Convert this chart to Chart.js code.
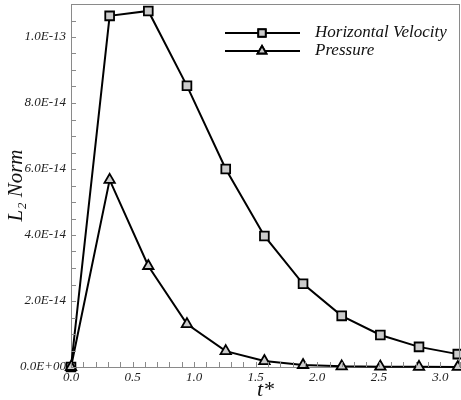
<!DOCTYPE html>
<html lang="en">
<head>
  <meta charset="UTF-8" />
  <title>L2 Norm vs t*</title>
  <script src="https://cdn.jsdelivr.net/npm/chart.js"></script>
  <style>
    html, body { margin: 0; padding: 0; background: #fff; }
    #wrap { width: 461px; height: 400px; }
  </style>
</head>
<body>
  <div id="wrap"><canvas id="normChart" width="461" height="400"></canvas></div>

  <script>
    // values
    const tStar = [0, 0.314, 0.628, 0.942, 1.257, 1.571, 1.885, 2.199, 2.513, 2.827, 3.142];
    const velocityNorm = [0, 10.64e-14, 10.79e-14, 8.52e-14, 6.0e-14, 3.97e-14, 2.52e-14, 1.55e-14, 0.97e-14, 0.61e-14, 0.39e-14];
    const pressureNorm = [0, 5.67e-14, 3.06e-14, 1.30e-14, 0.48e-14, 0.18e-14, 0.06e-14, 0.02e-14, 0.01e-14, 0.005e-14, 0.002e-14];
    const seriesNames = ['Horizontal Velocity', 'Pressure'];
    const xTickLabels = ['0.0', '0.5', '1.0', '1.5', '2.0', '2.5', '3.0'];
    const yTickLabels = ['0.0E+00', '2.0E-14', '4.0E-14', '6.0E-14', '8.0E-14', '1.0E-13'];

    const serif = "'Liberation Serif', 'Times New Roman', serif";
    const axisGray = '#8a8a8a';
    const markFill = '#cccccc';

    function majorLabel(value, step, labels) {
      const k = value / step;
      const i = Math.round(k);
      return Math.abs(k - i) < 1e-6 && i < labels.length ? labels[i] : '';
    }

    // ticks point inward, plus the top/right frame and the legend
    const framePlugin = {
      id: 'frame',
      afterDraw(chart) {
        const { ctx, chartArea: a, scales } = chart;
        ctx.save();
        ctx.strokeStyle = axisGray;
        ctx.lineWidth = 1;
        ctx.beginPath();
        ctx.moveTo(a.left, a.top + 0.5); ctx.lineTo(a.right, a.top + 0.5);
        ctx.moveTo(a.right - 0.5, a.top); ctx.lineTo(a.right - 0.5, a.bottom);
        scales.x.ticks.forEach(t => {
          const px = Math.round(scales.x.getPixelForValue(t.value)) + 0.5;
          ctx.moveTo(px, a.bottom); ctx.lineTo(px, a.bottom - 5);
        });
        scales.y.ticks.forEach(t => {
          const py = Math.round(scales.y.getPixelForValue(t.value)) + 0.5;
          ctx.moveTo(a.left, py); ctx.lineTo(a.left + 5, py);
        });
        ctx.stroke();

        // legend
        const lx = a.left + 154, ly = a.top + 29;
        chart.data.datasets.forEach((ds, i) => {
          const y = ly + i * 18;
          ctx.strokeStyle = ds.borderColor;
          ctx.lineWidth = ds.borderWidth;
          ctx.beginPath();
          ctx.moveTo(lx, y); ctx.lineTo(lx + 75, y);
          ctx.stroke();
          Chart.helpers.drawPoint(ctx, {
            pointStyle: ds.pointStyle, radius: ds.legendRadius, borderWidth: ds.pointBorderWidth
          }, lx + 37, y);
          ctx.fillStyle = ds.pointBackgroundColor;
          ctx.strokeStyle = ds.pointBorderColor;
          ctx.lineWidth = ds.pointBorderWidth;
          ctx.fill(); ctx.stroke();
          ctx.fillStyle = '#111';
          ctx.font = 'italic 17px ' + serif;
          ctx.textBaseline = 'middle';
          ctx.fillText(ds.label, lx + 90, y);
        });
        ctx.restore();
      }
    };

    const whiteBg = {
      id: 'whiteBg',
      beforeDraw(chart) {
        const { ctx } = chart;
        ctx.save();
        ctx.fillStyle = '#fff';
        ctx.fillRect(0, 0, chart.width, chart.height);
        ctx.restore();
      }
    };

    function series(label, values, style, radius, order) {
      return {
        label: label,
        data: values.map((v, i) => ({ x: tStar[i], y: v })),
        borderColor: '#000',
        borderWidth: 2,
        pointStyle: style,
        pointRadius: radius,
        legendRadius: radius - 1,
        pointBackgroundColor: markFill,
        pointBorderColor: '#000',
        pointBorderWidth: 1.8,
        tension: 0,
        clip: false,
        order: order
      };
    }

    new Chart(document.getElementById('normChart'), {
      type: 'line',
      data: {
        datasets: [
          series(seriesNames[0], velocityNorm, 'rect', 6.2, 1),
          series(seriesNames[1], pressureNorm, 'triangle', 6, 0)
        ]
      },
      options: {
        responsive: false,
        animation: false,
        events: [],
        layout: { autoPadding: false, padding: { top: 4, right: 1, left: 0, bottom: 0 } },
        plugins: { legend: { display: false }, tooltip: { enabled: false } },
        scales: {
          x: {
            type: 'linear',
            min: 0,
            max: 3.16,
            afterFit: s => { s.height = 33; s.paddingLeft = 0; s.paddingRight = 0; },
            border: { color: axisGray },
            grid: { display: false, drawTicks: false },
            ticks: {
              stepSize: 0.1,
              autoSkip: false,
              maxRotation: 0,
              padding: 3,
              color: '#222',
              font: { family: serif, size: 13, style: 'italic' },
              callback: v => majorLabel(v, 0.5, xTickLabels)
            },
            title: {
              display: true,
              text: 't*',
              color: '#111',
              padding: { top: 0, bottom: -3 },
              font: { family: serif, size: 22, style: 'italic' }
            }
          },
          y: {
            type: 'linear',
            min: 0,
            max: 1.1e-13,
            afterFit: s => { s.width = 71; s.paddingTop = 0; s.paddingBottom = 0; },
            border: { color: axisGray },
            grid: { display: false, drawTicks: false },
            ticks: {
              stepSize: 0.5e-14,
              autoSkip: false,
              maxTicksLimit: 100,
              padding: 5,
              color: '#222',
              font: { family: serif, size: 13, style: 'italic' },
              callback: v => majorLabel(v, 2e-14, yTickLabels)
            },
            title: {
              display: true,
              text: 'L₂ Norm',
              color: '#111',
              padding: { top: 4, bottom: 0 },
              font: { family: serif, size: 21, style: 'italic' }
            }
          }
        }
      },
      plugins: [whiteBg, framePlugin]
    });
  </script>
</body>
</html>
